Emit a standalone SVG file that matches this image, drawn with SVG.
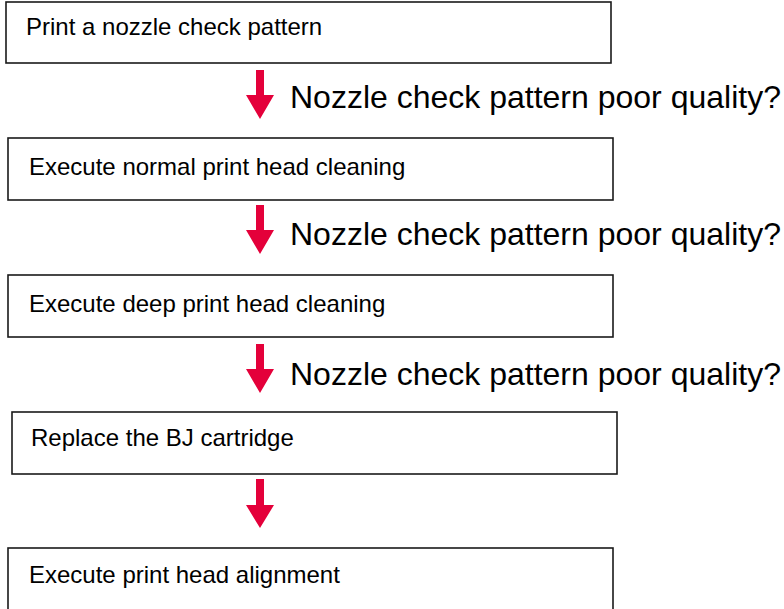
<svg xmlns="http://www.w3.org/2000/svg" width="784" height="609" viewBox="0 0 784 609">
<defs>
<style>
.box{fill:#fff;stroke:#1a1a1a;stroke-width:1.6}
.t{font-family:"Liberation Sans",Arial,sans-serif;font-size:24px;fill:#000}
.q{font-family:"Liberation Sans",Arial,sans-serif;font-size:32px;fill:#000}
.arr{fill:#e4003a}
</style>
</defs>
<rect width="784" height="609" fill="#fff"/>
<g id="n1"><rect class="box" x="6" y="2" width="605" height="61"/><text class="t" x="26" y="35">Print a nozzle check pattern</text></g>
<g id="n2"><rect class="box" x="8" y="138" width="605" height="62"/><text class="t" x="29" y="175">Execute normal print head cleaning</text></g>
<g id="n3"><rect class="box" x="8" y="275" width="605" height="62"/><text class="t" x="29" y="312">Execute deep print head cleaning</text></g>
<g id="n4"><rect class="box" x="12" y="412" width="605" height="62"/><text class="t" x="31" y="446">Replace the BJ cartridge</text></g>
<g id="n5"><rect class="box" x="8" y="548" width="605" height="80"/><text class="t" x="29" y="583">Execute print head alignment</text></g>
<g id="connectors">
<path class="arr" d="M256,70 H264 V95 H274 L260,119 L246,95 H256 Z"/>
<text class="q" x="290" y="108">Nozzle check pattern poor quality?</text>
<path class="arr" d="M256,205 H264 V230 H274 L260,254 L246,230 H256 Z"/>
<text class="q" x="290" y="245">Nozzle check pattern poor quality?</text>
<path class="arr" d="M256,344 H264 V369 H274 L260,393 L246,369 H256 Z"/>
<text class="q" x="290" y="385">Nozzle check pattern poor quality?</text>
<path class="arr" d="M256,479 H264 V505 H274 L260,528 L246,505 H256 Z"/>
</g>
</svg>
